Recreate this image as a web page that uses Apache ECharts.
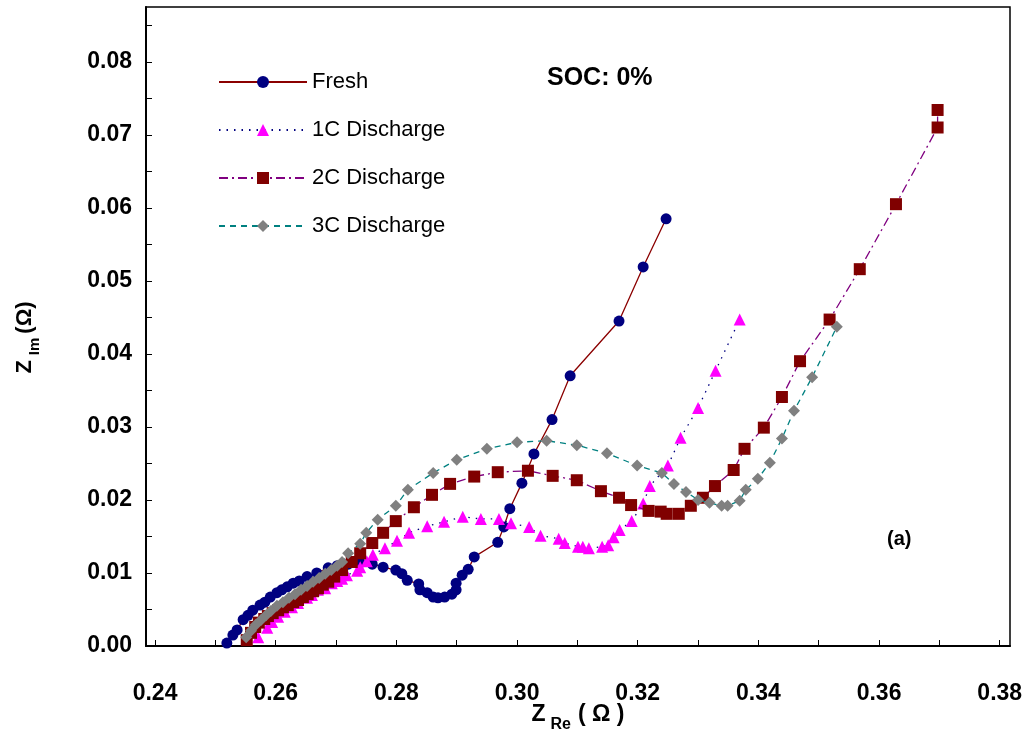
<!DOCTYPE html>
<html>
<head>
<meta charset="utf-8">
<script src="https://cdn.jsdelivr.net/npm/echarts@6/dist/echarts.min.js"></script>
<style>
html,body{margin:0;padding:0;background:#fff;}
#chart{width:1027px;height:738px;}
</style>
</head>
<body>
<div id="chart"></div>
<script>
// ---- Data (Z_Re in ohm, Z_Im in ohm) ----
const freshRe = [0.2519,0.2529,0.2536,0.2546,0.2554,0.2562,0.2574,0.2582,0.2591,0.2602,0.2610,0.2619,0.2629,0.2639,0.2652,0.2668,0.2687,0.2702,0.2720,0.2740,0.2760,0.2778,0.2799,0.2809,0.2818,0.2837,0.2839,0.2851,0.2861,0.2869,0.2880,0.2892,0.2899,0.2899,0.2909,0.2919,0.2929,0.2968,0.2978,0.2988,0.3008,0.3028,0.3058,0.3088,0.3169,0.3209,0.3247];
const freshIm = [0.0004,0.0015,0.0022,0.0036,0.0042,0.0049,0.0056,0.0060,0.0067,0.0073,0.0077,0.0081,0.0086,0.0089,0.0095,0.0100,0.0107,0.0110,0.0112,0.0114,0.0112,0.0108,0.0104,0.0099,0.0090,0.0085,0.0077,0.0073,0.0067,0.0066,0.0067,0.0071,0.0077,0.0086,0.0097,0.0105,0.0122,0.0142,0.0163,0.0188,0.0223,0.0263,0.0310,0.0370,0.0445,0.0519,0.0585];

const c1Re = [0.2571,0.2586,0.2594,0.2604,0.2615,0.2627,0.2637,0.2652,0.2660,0.2670,0.2682,0.2693,0.2702,0.2710,0.2718,0.2735,0.2740,0.2751,0.2761,0.2781,0.2801,0.2821,0.2851,0.2879,0.2910,0.2940,0.2970,0.2990,0.3020,0.3039,0.3069,0.3079,0.3101,0.3109,0.3119,0.3141,0.3151,0.3160,0.3170,0.3190,0.3209,0.3220,0.3250,0.3271,0.3300,0.3329,0.3369];
const c1Im = [0.0012,0.0025,0.0033,0.0040,0.0047,0.0053,0.0059,0.0066,0.0070,0.0077,0.0079,0.0086,0.0089,0.0092,0.0097,0.0103,0.0108,0.0116,0.0125,0.0134,0.0144,0.0155,0.0164,0.0170,0.0177,0.0174,0.0174,0.0168,0.0163,0.0151,0.0147,0.0141,0.0136,0.0136,0.0134,0.0136,0.0138,0.0149,0.0159,0.0171,0.0195,0.0219,0.0247,0.0285,0.0326,0.0377,0.0447];

const c2Re = [0.2552,0.2559,0.2566,0.2572,0.2581,0.2587,0.2595,0.2604,0.2612,0.2620,0.2629,0.2637,0.2645,0.2653,0.2662,0.2670,0.2678,0.2687,0.2697,0.2710,0.2726,0.2740,0.2760,0.2778,0.2799,0.2829,0.2859,0.2889,0.2929,0.2968,0.3018,0.3059,0.3099,0.3139,0.3169,0.3189,0.3218,0.3238,0.3248,0.3268,0.3288,0.3308,0.3328,0.3359,0.3377,0.3409,0.3439,0.3469,0.3518,0.3568,0.3628,0.3697,0.3697];
const c2Im = [0.0008,0.0018,0.0026,0.0032,0.0037,0.0041,0.0045,0.0049,0.0053,0.0056,0.0060,0.0063,0.0067,0.0071,0.0075,0.0079,0.0084,0.0088,0.0095,0.0104,0.0115,0.0127,0.0141,0.0155,0.0171,0.0190,0.0207,0.0222,0.0232,0.0238,0.0240,0.0233,0.0227,0.0212,0.0203,0.0193,0.0185,0.0184,0.0181,0.0181,0.0192,0.0203,0.0219,0.0241,0.0270,0.0299,0.0341,0.0390,0.0447,0.0516,0.0605,0.0710,0.0734];

const c3Re = [0.2551,0.2559,0.2567,0.2576,0.2584,0.2592,0.2602,0.2612,0.2622,0.2632,0.2642,0.2652,0.2662,0.2672,0.2682,0.2692,0.2702,0.2710,0.2720,0.2740,0.2750,0.2769,0.2799,0.2819,0.2861,0.2900,0.2950,0.3000,0.3049,0.3099,0.3149,0.3199,0.3240,0.3260,0.3280,0.3300,0.3319,0.3339,0.3349,0.3369,0.3379,0.3399,0.3419,0.3439,0.3459,0.3489,0.3530];
const c3Im = [0.0012,0.0021,0.0029,0.0036,0.0042,0.0048,0.0055,0.0060,0.0066,0.0071,0.0077,0.0082,0.0088,0.0093,0.0099,0.0104,0.0110,0.0115,0.0127,0.0140,0.0155,0.0173,0.0192,0.0214,0.0237,0.0255,0.0270,0.0279,0.0281,0.0275,0.0264,0.0247,0.0237,0.0222,0.0211,0.0200,0.0196,0.0192,0.0192,0.0199,0.0214,0.0229,0.0251,0.0284,0.0322,0.0368,0.0437];

const seriesNames = ['Fresh','1C Discharge','2C Discharge','3C Discharge'];
const xLabelValues = [0.24,0.26,0.28,0.30,0.32,0.34,0.36,0.38];
const xTickValues = [0.24,0.25,0.26,0.27,0.28,0.29,0.30,0.31,0.32,0.33,0.34,0.35,0.36,0.37,0.38];
const yLabelValues = [0.00,0.01,0.02,0.03,0.04,0.05,0.06,0.07,0.08];
const yTickValues = [0.000,0.005,0.010,0.015,0.020,0.025,0.030,0.035,0.040,0.045,0.050,0.055,0.060,0.065,0.070,0.075,0.080,0.085];

function pairs(xs, ys){ return xs.map((x,i)=>[x, ys[i]]); }

const FONT = '"Liberation Sans", Arial, sans-serif';
const chart = echarts.init(document.getElementById('chart'), null, {renderer:'canvas'});

chart.setOption({
  animation: false,
  backgroundColor: '#fff',
  grid: {left:146, right:17, top:7, bottom:92, outerBoundsMode:'none', containLabel:false,
         show:true, borderColor:'#000', borderWidth:1.5, backgroundColor:'transparent'},
  xAxis: {
    type:'value', min:0.2385, max:0.3817,
    axisLine:{show:true, onZero:false, lineStyle:{color:'#000', width:2}},
    axisTick:{show:true, inside:true, length:6, customValues:xTickValues, lineStyle:{color:'#000', width:1}},
    axisLabel:{customValues:xLabelValues, formatter:v=>v.toFixed(2), color:'#000', fontFamily:FONT, fontWeight:'bold', fontSize:23, margin:36},
    splitLine:{show:false},
    name:'{z|Z}{s|Re}{z|( Ω )}', nameLocation:'middle', nameGap:51, nameMoveOverlap:false,
    nameTextStyle:{rich:{
      z:{fontFamily:FONT, fontWeight:'bold', fontSize:23, color:'#000', lineHeight:36},
      s:{fontFamily:FONT, fontWeight:'bold', fontSize:16, color:'#000', verticalAlign:'bottom', lineHeight:16, padding:[0,7,0,5]}
    }}
  },
  yAxis: {
    type:'value', min:0, max:0.0875,
    axisLine:{show:true, onZero:false, lineStyle:{color:'#000', width:2}},
    axisTick:{show:true, inside:true, length:6, customValues:yTickValues, lineStyle:{color:'#000', width:1}},
    axisLabel:{customValues:yLabelValues, formatter:v=>v.toFixed(2), color:'#000', fontFamily:FONT, fontWeight:'bold', fontSize:23, margin:14},
    splitLine:{show:false},
    name:'{z|Z}{s|Im}{e|(Ω)}', nameLocation:'middle', nameRotate:90, nameGap:104, nameMoveOverlap:false,
    nameTextStyle:{rich:{
      z:{fontFamily:FONT, fontWeight:'bold', fontSize:22, color:'#000', lineHeight:34},
      e:{fontFamily:FONT, fontWeight:'bold', fontSize:22, color:'#000', lineHeight:34, padding:[0,22,0,0]},
      s:{fontFamily:FONT, fontWeight:'bold', fontSize:15, color:'#000', verticalAlign:'bottom', lineHeight:15, padding:[0,4,0,5]}
    }}
  },
  legend: {
    orient:'vertical', left:218, top:71, padding:0,
    itemWidth:88, itemHeight:15, itemGap:26,
    data:seriesNames,
    textStyle:{fontFamily:FONT, fontSize:22, color:'#000', padding:[0,0,0,0]}
  },
  graphic: [
    {type:'text', left:547, top:66, style:{text:'SOC: 0%', fontFamily:FONT, fontWeight:'bold', fontSize:25, fill:'#000'}},
    {type:'text', left:887, top:529, style:{text:'(a)', fontFamily:FONT, fontWeight:'bold', fontSize:20, fill:'#000'}}
  ],
  series: [
    {name:seriesNames[0], type:'line', data:pairs(freshRe, freshIm), symbol:'circle', symbolSize:11,
     itemStyle:{color:'#000080'}, lineStyle:{color:'#8B0000', width:1.3, type:'solid'}, z:2},
    {name:seriesNames[1], type:'line', data:pairs(c1Re, c1Im), symbol:'triangle', symbolSize:12,
     itemStyle:{color:'#FF00FF'}, lineStyle:{color:'#000080', width:1.3, type:[1.5,6]}, z:3},
    {name:seriesNames[2], type:'line', data:pairs(c2Re, c2Im), symbol:'rect', symbolSize:12,
     itemStyle:{color:'#800000'}, lineStyle:{color:'#800080', width:1.3, type:[9,4,2,4]}, z:4},
    {name:seriesNames[3], type:'line', data:pairs(c3Re, c3Im), symbol:'diamond', symbolSize:12,
     itemStyle:{color:'#808080'}, lineStyle:{color:'#008080', width:1.3, type:[6,5]}, z:5}
  ]
});
</script>
</body>
</html>
